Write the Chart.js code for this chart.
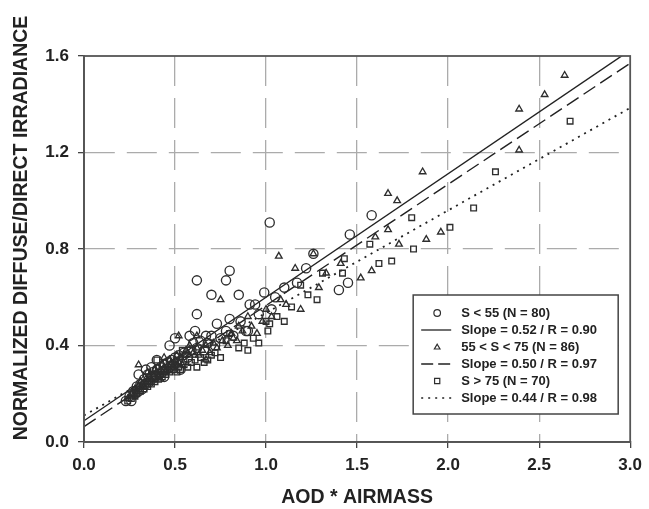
<!DOCTYPE html>
<html><head><meta charset="utf-8">
<script src="https://cdn.jsdelivr.net/npm/chart.js@4/dist/chart.umd.min.js"></script>
<style>html,body{margin:0;padding:0;background:#fff}#wrap{width:649px;height:509px}</style>
</head><body><div id="wrap"><canvas id="c" width="649" height="509"></canvas></div>
<script>
// ---- data ----
const xTicks = [0, 0.5, 1.0, 1.5, 2.0, 2.5, 3.0];
const yTicks = [0, 0.4, 0.8, 1.2, 1.6];
const xTitle = 'AOD * AIRMASS';
const yTitle = 'NORMALIZED DIFFUSE/DIRECT IRRADIANCE';
const seriesNames = ['S < 55 (N = 80)', '55 < S < 75 (N = 86)', 'S > 75 (N = 70)'];
const fitNames = ['Slope = 0.52 / R = 0.90', 'Slope = 0.50 / R = 0.97', 'Slope = 0.44 / R = 0.98'];
const fitSlopes = [0.512, 0.502, 0.425];
const fitIntercepts = [0.088, 0.064, 0.11];

const lowS = [
 [1.02,0.91],[1.58,0.94],[1.46,0.86],[1.26,0.78],[1.22,0.72],[1.10,0.64],[1.45,0.66],[1.40,0.63],
 [0.80,0.71],[0.78,0.67],[0.62,0.67],[0.70,0.61],[0.85,0.61],[0.99,0.62],[0.62,0.53],[0.91,0.57],
 [0.94,0.57],[1.03,0.55],[0.90,0.46],[0.67,0.44],[0.61,0.46],[0.50,0.43],[0.47,0.40],[0.80,0.51],
 [0.89,0.46],[0.37,0.31],[0.23,0.17],[1.17,0.66],
 [0.25,0.19],[0.26,0.17],[0.27,0.21],[0.28,0.20],[0.29,0.23],[0.30,0.21],[0.31,0.24],[0.32,0.22],
 [0.33,0.26],[0.34,0.24],[0.35,0.28],[0.36,0.25],[0.37,0.27],[0.38,0.29],[0.39,0.27],[0.40,0.30],
 [0.41,0.28],[0.42,0.31],[0.43,0.29],[0.44,0.32],[0.45,0.30],[0.46,0.33],[0.47,0.31],[0.48,0.34],
 [0.49,0.32],[0.50,0.35],[0.51,0.33],[0.52,0.36],[0.54,0.34],[0.55,0.37],[0.57,0.35],[0.59,0.38],
 [0.60,0.41],[0.62,0.39],[0.64,0.42],[0.66,0.38],[0.68,0.41],[0.70,0.44],[0.72,0.40],[0.75,0.43],
 [0.78,0.46],[0.82,0.44],[0.86,0.50],[0.30,0.28],[0.34,0.30],[0.40,0.34],[0.44,0.27],[0.53,0.30],
 [0.58,0.44],[0.73,0.49],[0.96,0.53],[1.05,0.60]
];
const midS = [
 [2.64,1.52],[2.53,1.44],[2.39,1.38],[2.39,1.21],[1.86,1.12],[1.67,1.03],[1.72,1.00],[1.67,0.88],
 [1.73,0.82],[1.88,0.84],[1.96,0.87],[1.60,0.85],[1.58,0.71],[1.52,0.68],[1.19,0.55],[1.07,0.77],
 [1.16,0.72],[1.26,0.78],[0.75,0.59],[1.08,0.59],[0.30,0.32],[0.44,0.35],[0.52,0.44],[0.67,0.34],
 [1.33,0.70],[1.41,0.74],[1.29,0.64],[1.00,0.55],[0.90,0.52],[0.85,0.48],[0.95,0.45],[0.62,0.44],
 [0.58,0.40],[0.82,0.43],
 [0.24,0.18],[0.26,0.20],[0.27,0.19],[0.28,0.22],[0.29,0.21],[0.30,0.23],[0.31,0.25],[0.32,0.24],
 [0.33,0.23],[0.34,0.26],[0.35,0.25],[0.36,0.27],[0.37,0.26],[0.38,0.28],[0.39,0.30],[0.40,0.29],
 [0.41,0.27],[0.42,0.30],[0.43,0.32],[0.44,0.31],[0.45,0.29],[0.46,0.32],[0.47,0.34],[0.48,0.33],
 [0.49,0.31],[0.50,0.34],[0.51,0.36],[0.52,0.33],[0.53,0.35],[0.55,0.36],[0.56,0.38],[0.58,0.36],
 [0.60,0.37],[0.62,0.39],[0.63,0.36],[0.65,0.38],[0.67,0.40],[0.69,0.37],[0.71,0.41],[0.73,0.39],
 [0.76,0.42],[0.79,0.40],[0.81,0.45],[0.84,0.42],[0.87,0.46],[0.92,0.48],[0.98,0.50],[1.03,0.52],
 [1.11,0.57],[0.35,0.29],[0.42,0.26],[0.54,0.32]
];
const highS = [
 [2.67,1.33],[2.26,1.12],[2.14,0.97],[1.80,0.93],[2.01,0.89],[1.81,0.80],[1.69,0.75],[1.62,0.74],
 [1.57,0.82],[1.43,0.76],[1.31,0.70],[1.42,0.70],[1.19,0.65],[1.23,0.61],[1.28,0.59],[1.14,0.56],
 [1.06,0.52],[1.02,0.49],[1.01,0.46],[0.80,0.45],[0.40,0.34],[0.54,0.38],[1.00,0.50],[0.78,0.42],
 [0.93,0.43],[0.88,0.41],[1.10,0.50],[0.70,0.36],[0.66,0.33],[0.61,0.34],
 [0.24,0.17],[0.26,0.18],[0.27,0.20],[0.28,0.19],[0.29,0.20],[0.30,0.22],[0.31,0.21],[0.32,0.23],
 [0.33,0.22],[0.34,0.24],[0.35,0.23],[0.36,0.25],[0.37,0.24],[0.38,0.26],[0.39,0.25],[0.40,0.27],
 [0.41,0.26],[0.42,0.28],[0.43,0.27],[0.44,0.29],[0.45,0.28],[0.46,0.30],[0.47,0.29],[0.48,0.31],
 [0.49,0.30],[0.50,0.32],[0.51,0.29],[0.52,0.31],[0.53,0.30],[0.55,0.32],[0.57,0.31],[0.59,0.33],
 [0.62,0.31],[0.64,0.35],[0.68,0.34],[0.72,0.37],[0.75,0.35],[0.85,0.39],[0.90,0.38],[0.96,0.41]
];

// ---- build ----
const FONT = "'Liberation Sans', Arial, sans-serif";
const INK = '#222';
const MARK = '#2e2e2e';
const pts = a => a.map(p => ({x: p[0], y: p[1]}));
const fitLine = i => [0, 3].map(x => ({x: x, y: fitIntercepts[i] + fitSlopes[i] * x}));
const pointStyles = ['circle', 'triangle', 'rect'];
const pointRadii = [4.6, 3.8, 4.0];
const lineDashes = [[], [14, 6], [2, 5]];

const datasets = [];
[lowS, midS, highS].forEach((s, i) => {
  datasets.push({type: 'scatter', label: seriesNames[i], data: pts(s), pointStyle: pointStyles[i],
    pointRadius: pointRadii[i], borderColor: MARK, backgroundColor: 'rgba(0,0,0,0)', borderWidth: 1.35,
    pointHoverRadius: pointRadii[i]});
});
[0, 1, 2].forEach(i => {
  datasets.push({type: 'line', label: fitNames[i], data: fitLine(i), borderColor: INK,
    borderWidth: i === 2 ? 1.8 : 1.4, borderDash: lineDashes[i], pointRadius: 0, fill: false, tension: 0});
});

const legendPlugin = {
  id: 'boxLegend',
  afterDatasetsDraw(chart) {
    const ctx = chart.ctx, ca = chart.chartArea;
    const w = 205, h = 119;
    const bx = ca.right - 12 - w, by = ca.bottom - 28 - h;
    ctx.save();
    ctx.fillStyle = '#fff';
    ctx.fillRect(bx, by, w, h);
    ctx.strokeStyle = '#444'; ctx.lineWidth = 1.5;
    ctx.strokeRect(bx, by, w, h);
    const symX = bx + 24, lineX0 = bx + 8, lineX1 = bx + 38, textX = bx + 48;
    ctx.font = 'bold 13px ' + FONT;
    ctx.textBaseline = 'middle';
    for (let i = 0; i < 3; i++) {
      const y1 = by + 18 + i * 34, y2 = y1 + 17;
      ctx.strokeStyle = MARK; ctx.lineWidth = 1.2; ctx.setLineDash([]);
      ctx.beginPath();
      if (i === 0) ctx.arc(symX, y1, 3.3, 0, Math.PI * 2);
      else if (i === 1) { ctx.moveTo(symX, y1 - 2.8); ctx.lineTo(symX + 2.8, y1 + 2); ctx.lineTo(symX - 2.8, y1 + 2); ctx.closePath(); }
      else ctx.rect(symX - 2.6, y1 - 2.6, 5.2, 5.2);
      ctx.stroke();
      ctx.strokeStyle = INK; ctx.lineWidth = i === 2 ? 1.6 : 1.3; ctx.setLineDash(i === 1 ? [12, 5] : lineDashes[i]);
      ctx.beginPath(); ctx.moveTo(lineX0, y2); ctx.lineTo(lineX1, y2); ctx.stroke();
      ctx.setLineDash([]);
      ctx.fillStyle = INK;
      ctx.fillText(seriesNames[i], textX, y1);
      ctx.fillText(fitNames[i], textX, y2);
    }
    ctx.restore();
  },
  afterDraw(chart) {
    const ctx = chart.ctx, ca = chart.chartArea;
    ctx.save();
    ctx.strokeStyle = '#555'; ctx.lineWidth = 1.8; ctx.setLineDash([]);
    ctx.strokeRect(ca.left, ca.top, ca.right - ca.left, ca.bottom - ca.top);
    // y-axis title, placed as in the reference (slightly above the plot centre)
    ctx.translate(22, 228);
    ctx.rotate(-Math.PI / 2);
    ctx.font = 'bold 19.5px ' + FONT;
    ctx.fillStyle = INK; ctx.textAlign = 'center'; ctx.textBaseline = 'middle';
    ctx.fillText(yTitle, 0, 0);
    ctx.restore();
  }
};

const gridColor = (ends) => (c) => (c.tick && ends.includes(c.tick.value)) ? 'rgba(0,0,0,0)' : '#ababab';

new Chart(document.getElementById('c'), {
  data: {datasets},
  options: {
    responsive: false, animation: false, devicePixelRatio: 1,
    layout: {padding: {top: 56, right: 14, left: 0, bottom: 0}},
    plugins: {legend: {display: false}, tooltip: {enabled: false}},
    scales: {
      x: {type: 'linear', min: 0, max: 3,
        afterBuildTicks: s => { s.ticks = xTicks.map(v => ({value: v})); },
        afterFit: s => { s.height = 67; },
        ticks: {callback: v => v.toFixed(1), font: {family: FONT, size: 17, weight: 'bold'}, color: INK, padding: 7, maxRotation: 0},
        grid: {color: gridColor([0, 3]), lineWidth: 1.3, tickColor: '#444', tickLength: 6, tickWidth: 1.3, tickBorderDash: []},
        border: {display: true, color: '#555', width: 1.8, dash: [30, 12]},
        title: {display: true, text: xTitle, font: {family: FONT, size: 19.5, weight: 'bold'}, color: INK, padding: {top: 0, bottom: 0}}
      },
      y: {type: 'linear', min: 0, max: 1.6,
        afterBuildTicks: s => { s.ticks = yTicks.map(v => ({value: v})); },
        afterFit: s => { s.width = 84; },
        ticks: {callback: v => v.toFixed(1), font: {family: FONT, size: 17, weight: 'bold'}, color: INK, padding: 9},
        grid: {color: gridColor([0, 1.6]), lineWidth: 1.3, tickColor: '#444', tickLength: 6, tickWidth: 1.3, tickBorderDash: []},
        border: {display: true, color: '#555', width: 1.8, dash: [30, 12]},
        title: {display: false, text: yTitle}
      }
    }
  },
  plugins: [legendPlugin]
});
</script></body></html>
